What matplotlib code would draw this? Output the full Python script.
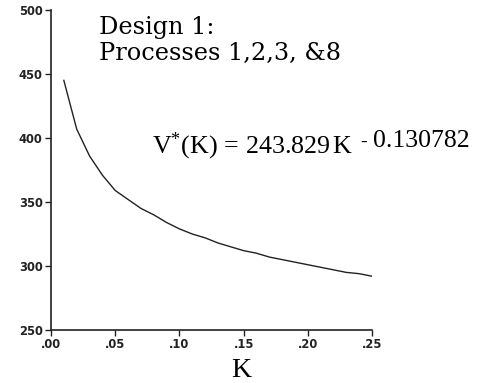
import numpy as np
import matplotlib.pyplot as plt

plt.rcParams['mathtext.fontset'] = 'custom'
plt.rcParams['mathtext.rm'] = 'Liberation Serif'
plt.rcParams['mathtext.it'] = 'Liberation Serif:italic'

# values
K = [0.01, 0.02, 0.03, 0.04, 0.05, 0.06, 0.07, 0.08, 0.09, 0.10, 0.11, 0.12, 0.13,
     0.14, 0.15, 0.16, 0.17, 0.18, 0.19, 0.20, 0.21, 0.22, 0.23, 0.24, 0.25]
V = [445, 407, 386, 371, 359, 352, 345, 340, 334, 329, 325, 322, 318,
     315, 312, 310, 307, 305, 303, 301, 299, 297, 295, 294, 292]

xticks = [0.00, 0.05, 0.10, 0.15, 0.20, 0.25]
xticklabels = ['.00', '.05', '.10', '.15', '.20', '.25']
yticks = [250, 300, 350, 400, 450, 500]

fig = plt.figure(figsize=(4.91, 3.83), dpi=100)
ax = fig.add_axes([51/491, 1-330/383, 321/491, 320/383])

ax.plot(K, V, color='#222222', lw=1.0)

ax.set_xlim(0, 0.25)
ax.set_ylim(250, 500)
ax.set_xticks(xticks)
ax.set_xticklabels(xticklabels)
ax.set_yticks(yticks)
for s in ['top', 'right']:
    ax.spines[s].set_visible(False)
for s in ['left', 'bottom']:
    ax.spines[s].set_linewidth(1.2)
    ax.spines[s].set_color('#222222')
ax.tick_params(direction='out', length=4, width=1, color='#222222', pad=2)
for lab in ax.get_xticklabels() + ax.get_yticklabels():
    lab.set_fontsize(8.3)
    lab.set_fontweight('bold')
    lab.set_color('#222222')

# x label
fig.text(241/491, 1-377/383, 'K', family='Liberation Serif', fontsize=20,
         ha='center', va='baseline')

# title text
fig.text(99/491, 1-34/383, 'Design 1:', family='DejaVu Serif', fontsize=17.3,
         va='baseline')
fig.text(99/491, 1-60/383, 'Processes 1,2,3, &8', family='DejaVu Serif', fontsize=17.3,
         va='baseline')

# fitted equation
fig.text(152/491, 1-153/383, r'$\mathrm{V^{*}(K)\/=\/243.829\/K}$', fontsize=18.7,
         va='baseline')
fig.text(360/491, 1-147/383, '-', family='Liberation Serif', fontsize=14, va='baseline')
fig.text(373/491, 1-147/383, '0.130782', family='Liberation Serif', fontsize=18.5,
         va='baseline')

fig.savefig('out.png', dpi=100)
